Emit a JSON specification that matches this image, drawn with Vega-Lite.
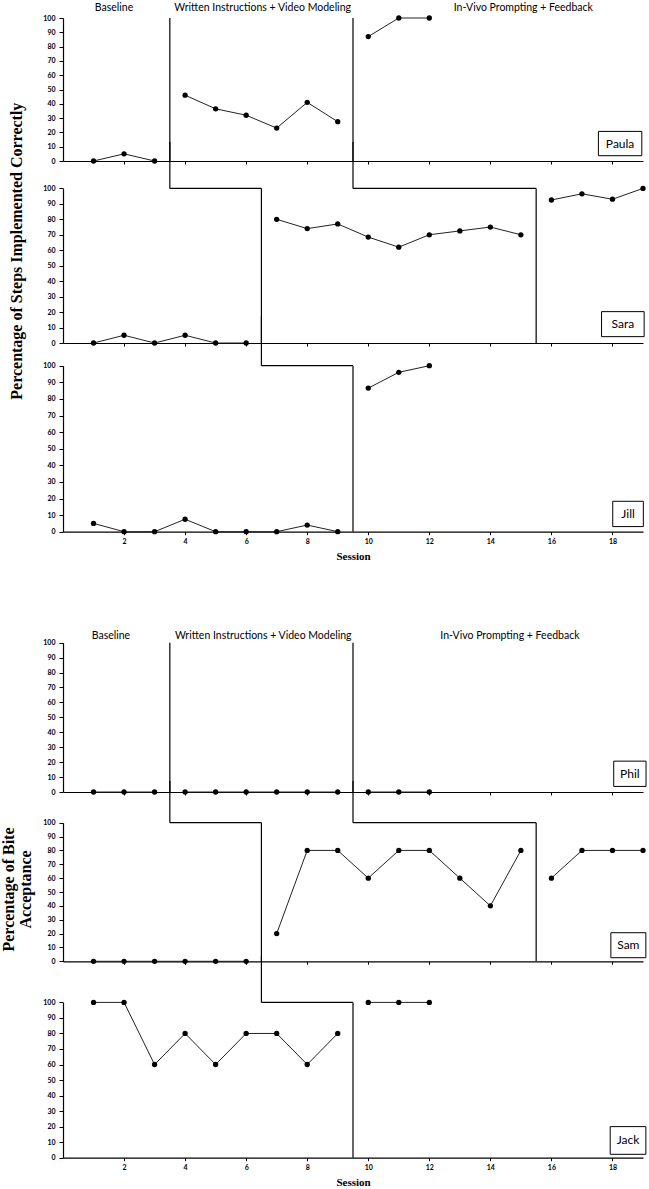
{
  "$schema": "https://vega.github.io/schema/vega-lite/v6.json",
  "padding": {"left": 0, "top": 2, "right": 0, "bottom": 0},
  "spacing": 0,
  "bounds": "flush",
  "datasets": {
    "sessions": [
      {"p":"Paula","s":1,"v":0,"ph":1},{"p":"Paula","s":2,"v":5,"ph":1},{"p":"Paula","s":3,"v":0,"ph":1},
      {"p":"Paula","s":4,"v":46,"ph":2},{"p":"Paula","s":5,"v":36.5,"ph":2},{"p":"Paula","s":6,"v":32,"ph":2},{"p":"Paula","s":7,"v":23,"ph":2},{"p":"Paula","s":8,"v":41,"ph":2},{"p":"Paula","s":9,"v":27.5,"ph":2},
      {"p":"Paula","s":10,"v":87,"ph":3},{"p":"Paula","s":11,"v":100,"ph":3},{"p":"Paula","s":12,"v":100,"ph":3},
      {"p":"Sara","s":1,"v":0,"ph":1},{"p":"Sara","s":2,"v":5,"ph":1},{"p":"Sara","s":3,"v":0,"ph":1},{"p":"Sara","s":4,"v":5,"ph":1},{"p":"Sara","s":5,"v":0,"ph":1},{"p":"Sara","s":6,"v":0,"ph":1},
      {"p":"Sara","s":7,"v":80,"ph":2},{"p":"Sara","s":8,"v":74,"ph":2},{"p":"Sara","s":9,"v":77,"ph":2},{"p":"Sara","s":10,"v":68.5,"ph":2},{"p":"Sara","s":11,"v":62,"ph":2},{"p":"Sara","s":12,"v":70,"ph":2},{"p":"Sara","s":13,"v":72.5,"ph":2},{"p":"Sara","s":14,"v":75,"ph":2},{"p":"Sara","s":15,"v":70,"ph":2},
      {"p":"Sara","s":16,"v":92.5,"ph":3},{"p":"Sara","s":17,"v":96.5,"ph":3},{"p":"Sara","s":18,"v":93,"ph":3},{"p":"Sara","s":19,"v":100,"ph":3},
      {"p":"Jill","s":1,"v":5,"ph":1},{"p":"Jill","s":2,"v":0,"ph":1},{"p":"Jill","s":3,"v":0,"ph":1},{"p":"Jill","s":4,"v":7.5,"ph":1},{"p":"Jill","s":5,"v":0,"ph":1},{"p":"Jill","s":6,"v":0,"ph":1},{"p":"Jill","s":7,"v":0,"ph":1},{"p":"Jill","s":8,"v":4,"ph":1},{"p":"Jill","s":9,"v":0,"ph":1},
      {"p":"Jill","s":10,"v":86.5,"ph":2},{"p":"Jill","s":11,"v":96,"ph":2},{"p":"Jill","s":12,"v":100,"ph":2},
      {"p":"Phil","s":1,"v":0,"ph":1},{"p":"Phil","s":2,"v":0,"ph":1},{"p":"Phil","s":3,"v":0,"ph":1},
      {"p":"Phil","s":4,"v":0,"ph":2},{"p":"Phil","s":5,"v":0,"ph":2},{"p":"Phil","s":6,"v":0,"ph":2},{"p":"Phil","s":7,"v":0,"ph":2},{"p":"Phil","s":8,"v":0,"ph":2},{"p":"Phil","s":9,"v":0,"ph":2},
      {"p":"Phil","s":10,"v":0,"ph":3},{"p":"Phil","s":11,"v":0,"ph":3},{"p":"Phil","s":12,"v":0,"ph":3},
      {"p":"Sam","s":1,"v":0,"ph":1},{"p":"Sam","s":2,"v":0,"ph":1},{"p":"Sam","s":3,"v":0,"ph":1},{"p":"Sam","s":4,"v":0,"ph":1},{"p":"Sam","s":5,"v":0,"ph":1},{"p":"Sam","s":6,"v":0,"ph":1},
      {"p":"Sam","s":7,"v":20,"ph":2},{"p":"Sam","s":8,"v":80,"ph":2},{"p":"Sam","s":9,"v":80,"ph":2},{"p":"Sam","s":10,"v":60,"ph":2},{"p":"Sam","s":11,"v":80,"ph":2},{"p":"Sam","s":12,"v":80,"ph":2},{"p":"Sam","s":13,"v":60,"ph":2},{"p":"Sam","s":14,"v":40,"ph":2},{"p":"Sam","s":15,"v":80,"ph":2},
      {"p":"Sam","s":16,"v":60,"ph":3},{"p":"Sam","s":17,"v":80,"ph":3},{"p":"Sam","s":18,"v":80,"ph":3},{"p":"Sam","s":19,"v":80,"ph":3},
      {"p":"Jack","s":1,"v":100,"ph":1},{"p":"Jack","s":2,"v":100,"ph":1},{"p":"Jack","s":3,"v":60,"ph":1},{"p":"Jack","s":4,"v":80,"ph":1},{"p":"Jack","s":5,"v":60,"ph":1},{"p":"Jack","s":6,"v":80,"ph":1},{"p":"Jack","s":7,"v":80,"ph":1},{"p":"Jack","s":8,"v":60,"ph":1},{"p":"Jack","s":9,"v":80,"ph":1},
      {"p":"Jack","s":10,"v":100,"ph":2},{"p":"Jack","s":11,"v":100,"ph":2},{"p":"Jack","s":12,"v":100,"ph":2}
    ],
    "changes": [
      {"p":"Paula","session":3.5,"prev":null},{"p":"Paula","session":9.5,"prev":null},
      {"p":"Sara","session":6.5,"prev":3.5},{"p":"Sara","session":15.5,"prev":9.5},
      {"p":"Jill","session":9.5,"prev":6.5},
      {"p":"Phil","session":3.5,"prev":null},{"p":"Phil","session":9.5,"prev":null},
      {"p":"Sam","session":6.5,"prev":3.5},{"p":"Sam","session":15.5,"prev":9.5},
      {"p":"Jack","session":9.5,"prev":6.5}
    ],
    "phaselabels": [
      {"g":"top","label":"Baseline","c":1.67},
      {"g":"top","label":"Written Instructions + Video Modeling","c":6.54},
      {"g":"top","label":"In-Vivo Prompting + Feedback","c":15.08},
      {"g":"bottom","label":"Baseline","c":1.57},
      {"g":"bottom","label":"Written Instructions + Video Modeling","c":6.56},
      {"g":"bottom","label":"In-Vivo Prompting + Feedback","c":14.64}
    ],
    "names": [{"p":"Paula"},{"p":"Sara"},{"p":"Jill"},{"p":"Phil"},{"p":"Sam"},{"p":"Jack"}]
  },
  "vconcat": [
    {
      "width": 580, "height": 143,
      "layer": [
        {"data":{"name":"sessions"},"transform":[{"filter":{"field":"p","equal":"Paula"}}],
         "mark":{"type":"line","color":"#222","strokeWidth":1,"point":{"filled":true,"size":28,"color":"black","opacity":1}},
         "encoding":{
           "x":{"field":"s","type":"quantitative","scale":{"domain":[0,19],"nice":false},"axis":{"values":[2,4,6,8,10,12,14,16,18],"tickCount":20,"labels":false,"title":null}},
           "y":{"field":"v","type":"quantitative","scale":{"domain":[0,100],"nice":false,"range":[143,0]},"axis":{"values":[0,10,20,30,40,50,60,70,80,90,100],"tickCount":11,"title":null}},
           "detail":{"field":"ph"}}},
        {"data":{"name":"changes"},"transform":[{"filter":{"field":"p","equal":"Paula"}}],
         "mark":{"type":"rule","color":"black","strokeWidth":1.2},
         "encoding":{"x":{"field":"session","type":"quantitative"},"y":{"datum":0},"y2":{"datum":100}}},
        {"data":{"name":"phaselabels"},"transform":[{"filter":{"field":"g","equal":"top"}}],
         "mark":{"type":"text","font":"Lato","fontSize":10.5,"color":"black","baseline":"alphabetic","dy":-7.3},
         "encoding":{"x":{"field":"c","type":"quantitative"},"y":{"datum":100},"text":{"field":"label"}}},
        {"data":{"name":"names"},"transform":[{"filter":{"field":"p","equal":"Paula"}}],
         "mark":{"type":"point","shape":"M-1,-0.56H1V0.56H-1Z","size":1884,"filled":false,"color":"black","strokeWidth":1,"opacity":1},
         "encoding":{"x":{"datum":18.25},"y":{"datum":12.2}}},
        {"data":{"name":"names"},"transform":[{"filter":{"field":"p","equal":"Paula"}}],
         "mark":{"type":"text","font":"Lato","fontSize":12,"color":"black"},
         "encoding":{"x":{"datum":18.25},"y":{"datum":12.2},"text":{"field":"p"}}}
      ]
    },
    {
      "width": 580, "height": 182,
      "layer": [
        {"data":{"name":"sessions"},"transform":[{"filter":{"field":"p","equal":"Sara"}}],
         "mark":{"type":"line","color":"#222","strokeWidth":1,"point":{"filled":true,"size":28,"color":"black","opacity":1}},
         "encoding":{
           "x":{"field":"s","type":"quantitative","scale":{"domain":[0,19],"nice":false},"axis":{"values":[2,4,6,8,10,12,14,16,18],"tickCount":20,"labels":false,"title":null}},
           "y":{"field":"v","type":"quantitative","scale":{"domain":[0,100],"nice":false,"range":[182,27.4]},"axis":{"values":[0,10,20,30,40,50,60,70,80,90,100],"tickCount":11,"title":"Percentage of Steps Implemented Correctly","titleAngle":-90,"titleBaseline":"bottom","titleAlign":"center","titleX":-38.5,"titleY":89.7}},
           "detail":{"field":"ph"}}},
        {"data":{"name":"changes"},"transform":[{"filter":{"field":"p","equal":"Sara"}}],
         "mark":{"type":"rule","color":"black","strokeWidth":1.2},
         "encoding":{"x":{"field":"session","type":"quantitative"},"y":{"datum":0},"y2":{"datum":100}}},
        {"data":{"name":"changes"},"transform":[{"filter":"datum.p == 'Sara' && isValid(datum.prev)"}],
         "mark":{"type":"rule","color":"black","strokeWidth":1.2},
         "encoding":{"x":{"field":"prev","type":"quantitative"},"x2":{"field":"session"},"y":{"datum":100}}},
        {"data":{"name":"changes"},"transform":[{"filter":"datum.p == 'Sara' && isValid(datum.prev)"}],
         "mark":{"type":"rule","color":"black","strokeWidth":1.2},
         "encoding":{"x":{"field":"prev","type":"quantitative"},"y":{"datum":100},"y2":{"datum":130}}},
        {"data":{"name":"names"},"transform":[{"filter":{"field":"p","equal":"Sara"}}],
         "mark":{"type":"point","shape":"M-1,-0.587H1V0.587H-1Z","size":1815,"filled":false,"color":"black","strokeWidth":1,"opacity":1},
         "encoding":{"x":{"datum":18.34},"y":{"datum":12.2}}},
        {"data":{"name":"names"},"transform":[{"filter":{"field":"p","equal":"Sara"}}],
         "mark":{"type":"text","font":"Lato","fontSize":12,"color":"black"},
         "encoding":{"x":{"datum":18.34},"y":{"datum":12.2},"text":{"field":"p"}}}
      ]
    },
    {
      "width": 580, "height": 188.7,
      "layer": [
        {"data":{"name":"sessions"},"transform":[{"filter":{"field":"p","equal":"Jill"}}],
         "mark":{"type":"line","color":"#222","strokeWidth":1,"point":{"filled":true,"size":28,"color":"black","opacity":1}},
         "encoding":{
           "x":{"field":"s","type":"quantitative","scale":{"domain":[0,19],"nice":false},"axis":{"values":[2,4,6,8,10,12,14,16,18],"tickCount":20,"labels":true,"title":"Session"}},
           "y":{"field":"v","type":"quantitative","scale":{"domain":[0,100],"nice":false,"range":[188.7,22.7]},"axis":{"values":[0,10,20,30,40,50,60,70,80,90,100],"tickCount":11,"title":null}},
           "detail":{"field":"ph"}}},
        {"data":{"name":"changes"},"transform":[{"filter":{"field":"p","equal":"Jill"}}],
         "mark":{"type":"rule","color":"black","strokeWidth":1.2},
         "encoding":{"x":{"field":"session","type":"quantitative"},"y":{"datum":0},"y2":{"datum":100}}},
        {"data":{"name":"changes"},"transform":[{"filter":"datum.p == 'Jill' && isValid(datum.prev)"}],
         "mark":{"type":"rule","color":"black","strokeWidth":1.2},
         "encoding":{"x":{"field":"prev","type":"quantitative"},"x2":{"field":"session"},"y":{"datum":100}}},
        {"data":{"name":"changes"},"transform":[{"filter":"datum.p == 'Jill' && isValid(datum.prev)"}],
         "mark":{"type":"rule","color":"black","strokeWidth":1.2},
         "encoding":{"x":{"field":"prev","type":"quantitative"},"y":{"datum":100},"y2":{"datum":130}}},
        {"data":{"name":"names"},"transform":[{"filter":{"field":"p","equal":"Jill"}}],
         "mark":{"type":"point","shape":"M-1,-0.827H1V0.827H-1Z","size":936,"filled":false,"color":"black","strokeWidth":1,"opacity":1},
         "encoding":{"x":{"datum":18.51},"y":{"datum":10.7}}},
        {"data":{"name":"names"},"transform":[{"filter":{"field":"p","equal":"Jill"}}],
         "mark":{"type":"text","font":"Lato","fontSize":12,"color":"black"},
         "encoding":{"x":{"datum":18.51},"y":{"datum":10.7},"text":{"field":"p"}}}
      ]
    },
    {
      "width": 580, "height": 260,
      "layer": [
        {"data":{"name":"sessions"},"transform":[{"filter":{"field":"p","equal":"Phil"}}],
         "mark":{"type":"line","color":"#222","strokeWidth":1,"point":{"filled":true,"size":28,"color":"black","opacity":1}},
         "encoding":{
           "x":{"field":"s","type":"quantitative","scale":{"domain":[0,19],"nice":false},"axis":{"values":[2,4,6,8,10,12,14,16,18],"tickCount":20,"labels":false,"title":null}},
           "y":{"field":"v","type":"quantitative","scale":{"domain":[0,100],"nice":false,"range":[260,110.7]},"axis":{"values":[0,10,20,30,40,50,60,70,80,90,100],"tickCount":11,"title":null}},
           "detail":{"field":"ph"}}},
        {"data":{"name":"changes"},"transform":[{"filter":{"field":"p","equal":"Phil"}}],
         "mark":{"type":"rule","color":"black","strokeWidth":1.2},
         "encoding":{"x":{"field":"session","type":"quantitative"},"y":{"datum":0},"y2":{"datum":100}}},
        {"data":{"name":"phaselabels"},"transform":[{"filter":{"field":"g","equal":"bottom"}}],
         "mark":{"type":"text","font":"Lato","fontSize":10.5,"color":"black","baseline":"alphabetic","dy":-4},
         "encoding":{"x":{"field":"c","type":"quantitative"},"y":{"datum":100},"text":{"field":"label"}}},
        {"data":{"name":"names"},"transform":[{"filter":{"field":"p","equal":"Phil"}}],
         "mark":{"type":"point","shape":"M-1,-0.783H1V0.783H-1Z","size":1043,"filled":false,"color":"black","strokeWidth":1,"opacity":1},
         "encoding":{"x":{"datum":18.57},"y":{"datum":12.2}}},
        {"data":{"name":"names"},"transform":[{"filter":{"field":"p","equal":"Phil"}}],
         "mark":{"type":"text","font":"Lato","fontSize":12,"color":"black"},
         "encoding":{"x":{"datum":18.57},"y":{"datum":12.2},"text":{"field":"p"}}}
      ]
    },
    {
      "width": 580, "height": 169.3,
      "layer": [
        {"data":{"name":"sessions"},"transform":[{"filter":{"field":"p","equal":"Sam"}}],
         "mark":{"type":"line","color":"#222","strokeWidth":1,"point":{"filled":true,"size":28,"color":"black","opacity":1}},
         "encoding":{
           "x":{"field":"s","type":"quantitative","scale":{"domain":[0,19],"nice":false},"axis":{"values":[2,4,6,8,10,12,14,16,18],"tickCount":20,"labels":false,"title":null}},
           "y":{"field":"v","type":"quantitative","scale":{"domain":[0,100],"nice":false,"range":[169.3,30.7]},"axis":{"values":[0,10,20,30,40,50,60,70,80,90,100],"tickCount":11,"title":["Percentage of Bite","Acceptance"],"titleAngle":-90,"titleBaseline":"bottom","titleAlign":"center","titleLineHeight":16.5,"titleX":-46.5,"titleY":97}},
           "detail":{"field":"ph"}}},
        {"data":{"name":"changes"},"transform":[{"filter":{"field":"p","equal":"Sam"}}],
         "mark":{"type":"rule","color":"black","strokeWidth":1.2},
         "encoding":{"x":{"field":"session","type":"quantitative"},"y":{"datum":0},"y2":{"datum":100}}},
        {"data":{"name":"changes"},"transform":[{"filter":"datum.p == 'Sam' && isValid(datum.prev)"}],
         "mark":{"type":"rule","color":"black","strokeWidth":1.2},
         "encoding":{"x":{"field":"prev","type":"quantitative"},"x2":{"field":"session"},"y":{"datum":100}}},
        {"data":{"name":"changes"},"transform":[{"filter":"datum.p == 'Sam' && isValid(datum.prev)"}],
         "mark":{"type":"rule","color":"black","strokeWidth":1.2},
         "encoding":{"x":{"field":"prev","type":"quantitative"},"y":{"datum":100},"y2":{"datum":130}}},
        {"data":{"name":"names"},"transform":[{"filter":{"field":"p","equal":"Sam"}}],
         "mark":{"type":"point","shape":"M-1,-0.714H1V0.714H-1Z","size":1225,"filled":false,"color":"black","strokeWidth":1,"opacity":1},
         "encoding":{"x":{"datum":18.52},"y":{"datum":11.6}}},
        {"data":{"name":"names"},"transform":[{"filter":{"field":"p","equal":"Sam"}}],
         "mark":{"type":"text","font":"Lato","fontSize":12,"color":"black"},
         "encoding":{"x":{"datum":18.52},"y":{"datum":11.6},"text":{"field":"p"}}}
      ]
    },
    {
      "width": 580, "height": 195.7,
      "layer": [
        {"data":{"name":"sessions"},"transform":[{"filter":{"field":"p","equal":"Jack"}}],
         "mark":{"type":"line","color":"#222","strokeWidth":1,"point":{"filled":true,"size":28,"color":"black","opacity":1}},
         "encoding":{
           "x":{"field":"s","type":"quantitative","scale":{"domain":[0,19],"nice":false},"axis":{"values":[2,4,6,8,10,12,14,16,18],"tickCount":20,"labels":true,"title":"Session"}},
           "y":{"field":"v","type":"quantitative","scale":{"domain":[0,100],"nice":false,"range":[195.7,40.4]},"axis":{"values":[0,10,20,30,40,50,60,70,80,90,100],"tickCount":11,"title":null}},
           "detail":{"field":"ph"}}},
        {"data":{"name":"changes"},"transform":[{"filter":{"field":"p","equal":"Jack"}}],
         "mark":{"type":"rule","color":"black","strokeWidth":1.2},
         "encoding":{"x":{"field":"session","type":"quantitative"},"y":{"datum":0},"y2":{"datum":100}}},
        {"data":{"name":"changes"},"transform":[{"filter":"datum.p == 'Jack' && isValid(datum.prev)"}],
         "mark":{"type":"rule","color":"black","strokeWidth":1.2},
         "encoding":{"x":{"field":"prev","type":"quantitative"},"x2":{"field":"session"},"y":{"datum":100}}},
        {"data":{"name":"changes"},"transform":[{"filter":"datum.p == 'Jack' && isValid(datum.prev)"}],
         "mark":{"type":"rule","color":"black","strokeWidth":1.2},
         "encoding":{"x":{"field":"prev","type":"quantitative"},"y":{"datum":100},"y2":{"datum":130}}},
        {"data":{"name":"names"},"transform":[{"filter":{"field":"p","equal":"Jack"}}],
         "mark":{"type":"point","shape":"M-1,-0.776H1V0.776H-1Z","size":1274,"filled":false,"color":"black","strokeWidth":1,"opacity":1},
         "encoding":{"x":{"datum":18.51},"y":{"datum":11.1}}},
        {"data":{"name":"names"},"transform":[{"filter":{"field":"p","equal":"Jack"}}],
         "mark":{"type":"text","font":"Lato","fontSize":12,"color":"black"},
         "encoding":{"x":{"datum":18.51},"y":{"datum":11.1},"text":{"field":"p"}}}
      ]
    }
  ],
  "config": {
    "view": {"stroke": null},
    "axis": {"grid": false, "domainColor": "black", "domainWidth": 1.2, "tickColor": "black", "tickWidth": 1, "tickSize": 4, "labelColor": "black", "labelFont": "Lato", "labelFontSize": 7, "labelFontWeight": "bold", "labelPadding": 4, "labelFlush": false, "labelOverlap": false, "titleFont": "Liberation Serif", "titleFontWeight": "bold", "titleColor": "black"},
    "axisX": {"tickSize": 3, "labelPadding": 3, "titlePadding": 6, "titleFontSize": 11},
    "axisY": {"titleFontSize": 16}
  }
}
